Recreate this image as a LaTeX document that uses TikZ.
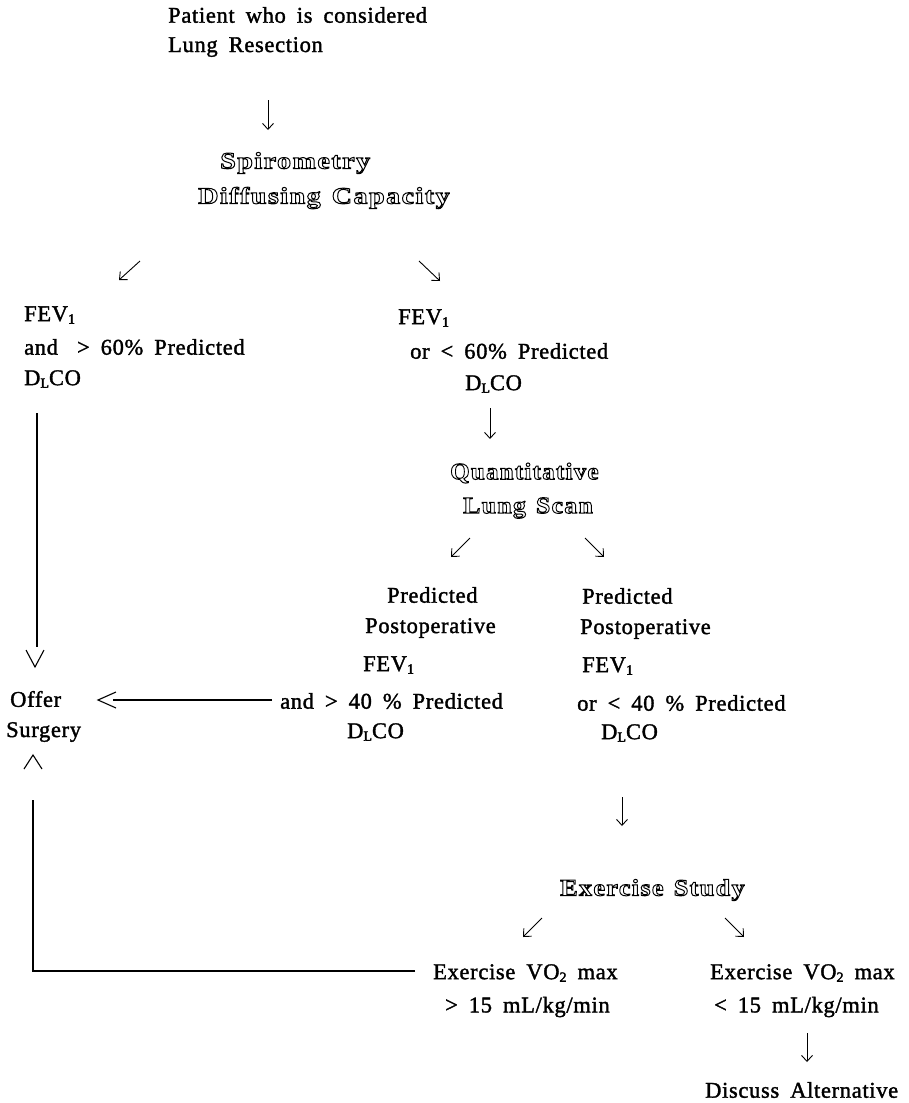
\documentclass[tikz,border=0pt]{standalone}
\usepackage{fontspec}
\usetikzlibrary{arrows.meta}
\newfontfamily\txtfam[LetterSpace=3]{Liberation Serif}
\newfontfamily\holfam[FakeStretch=1.2,LetterSpace=6]{Liberation Serif}
\newcommand\txtfnt{\txtfam\fontsize{22.5}{26}\selectfont\spaceskip=11pt plus 1pt\relax}
\newcommand\holfnt{\holfam\bfseries\fontsize{23.5}{26}\selectfont\spaceskip=11pt plus 1pt\relax}
\newcommand\lowsub[1]{\raisebox{-0.25ex}{\fontsize{14}{14}\selectfont #1}}
\newcommand\outl[1]{\special{pdf:literal direct 1 Tr 1 w}#1\special{pdf:literal direct 0 Tr}}
\newcommand\embon{\special{pdf:literal direct 2 Tr 0.35 w}}
\newcommand\emboff{\special{pdf:literal direct 0 Tr}}
\begin{document}
\begin{tikzpicture}[x=1pt,y=-1pt,
  txt/.style={font=\txtfnt, inner sep=0pt, anchor=west,
    execute at begin node=\embon, execute at end node=\emboff},
  hol/.style={font=\holfnt, inner sep=0pt, anchor=west},
  arr/.style={line width=0.9pt, -{Straight Barb[length=6pt,width=11pt,line width=0.9pt]}},
  ln/.style={line width=1.4pt},
  chev/.style={line width=1.1pt, line join=miter}]
\useasboundingbox (0,0) rectangle (909,1103);
% top
\node[txt] (p1) at (168,15) {Patient who is considered};
\node[txt] (p2) at (168,47) {Lung Resection};
\coordinate (a1s) at (268,100); \coordinate (a1e) at (268,130);
\draw[arr] (a1s) -- (a1e);
\node[hol] (sp) at (220,163) {\outl{Spirometry}};
\node[hol] (dc) at (198,198) {\outl{Diffusing Capacity}};
\coordinate (d1s) at (140,261); \coordinate (d1e) at (119,280);
\coordinate (d2s) at (419,261); \coordinate (d2e) at (440,281);
\draw[arr] (d1s) -- (d1e);
\draw[arr] (d2s) -- (d2e);
% left branch
\node[txt] (l1) at (24,315) {FEV\lowsub{1}};
\node[txt] (l2) at (24,347) {and\hspace{8pt} > 60\% Predicted};
\node[txt] (l3) at (24,379) {D\lowsub{L}CO};
% right branch
\node[txt] (r1) at (398,318) {FEV\lowsub{1}};
\node[txt] (r2) at (410,351) {or < 60\% Predicted};
\node[txt] (r3) at (465,384) {D\lowsub{L}CO};
\coordinate (a2s) at (490,408); \coordinate (a2e) at (490,439);
\draw[arr] (a2s) -- (a2e);
\node[hol] (qu) at (450,473) {\scalebox{0.886}[1]{\outl{Quantitative}}};
\node[hol] (ls) at (463,508) {\scalebox{0.915}[1]{\outl{Lung Scan}}};
\coordinate (d3s) at (470,538); \coordinate (d3e) at (451,557);
\coordinate (d4s) at (585,538); \coordinate (d4e) at (604,557);
\draw[arr] (d3s) -- (d3e);
\draw[arr] (d4s) -- (d4e);
% lung scan left
\node[txt] (m1) at (387,595) {Predicted};
\node[txt] (m2) at (365,628) {Postoperative};
\node[txt] (m3) at (363,665) {FEV\lowsub{1}};
\node[txt] (m4) at (280,701) {and > 40 \% Predicted};
\node[txt] (m5) at (347,732) {D\lowsub{L}CO};
% lung scan right
\node[txt] (n1) at (582,596) {Predicted};
\node[txt] (n2) at (580,629) {Postoperative};
\node[txt] (n3) at (582,666) {FEV\lowsub{1}};
\node[txt] (n4) at (577,703) {or < 40 \% Predicted};
\node[txt] (n5) at (601,733) {D\lowsub{L}CO};
% offer surgery
\node[txt] (of1) at (10,699) {Offer};
\node[txt] (of2) at (6,732) {Surgery};
\coordinate (v1s) at (37,413); \coordinate (v1e) at (37,647);
\draw[ln] (v1s) -- (v1e);
\draw[chev] (26,650) -- (35,667) -- (44,650);
\draw[chev] (116,692) -- (98,700) -- (116,708);
\coordinate (hs) at (272,700); \coordinate (he) at (113,700);
\draw[ln] (hs) -- (he);
\draw[chev] (24,769) -- (33,755) -- (42,769);
% exercise
\coordinate (a3s) at (622,797); \coordinate (a3e) at (622,826);
\draw[arr] (a3s) -- (a3e);
\node[hol] (ex) at (560,890) {\scalebox{0.93}[1]{\outl{Exercise Study}}};
\coordinate (d5s) at (542,918); \coordinate (d5e) at (523,937);
\coordinate (d6s) at (725,918); \coordinate (d6e) at (744,937);
\draw[arr] (d5s) -- (d5e);
\draw[arr] (d6s) -- (d6e);
\node[txt] (e1) at (433,973) {Exercise VO\lowsub{2} max};
\node[txt] (e2) at (445,1007) {> 15 mL/kg/min};
\node[txt] (f1) at (710,973) {Exercise VO\lowsub{2} max};
\node[txt] (f2) at (714,1007) {< 15 mL/kg/min};
\coordinate (a4s) at (807,1033); \coordinate (a4e) at (807,1062);
\draw[arr] (a4s) -- (a4e);
\node[txt] (g1) at (705,1090) {Discuss Alternative};
% loop back
\coordinate (bs) at (415,971); \coordinate (bc) at (33,971); \coordinate (be) at (33,800);
\draw[ln] (bs) -- (bc) -- (be);
\end{tikzpicture}
\end{document}
